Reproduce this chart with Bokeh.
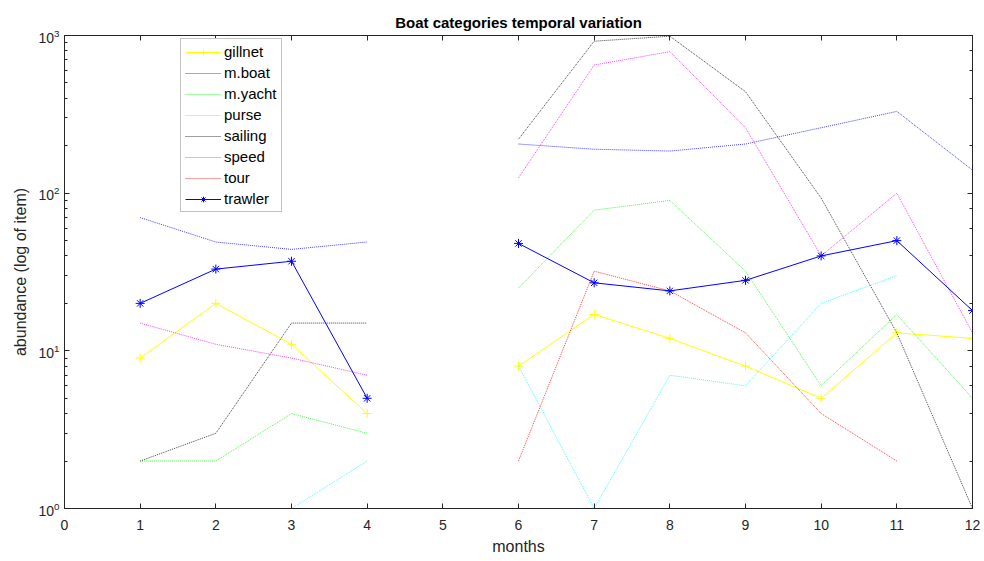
import numpy as np
from bokeh.plotting import figure
from bokeh.models import (Range1d, FixedTicker, Legend, LegendItem, LinearAxis, LogAxis)
from bokeh.embed import file_html
from bokeh.resources import INLINE

nan = float("nan")
months = [1, 2, 3, 4, 5, 6, 7, 8, 9, 10, 11, 12]
gillnet = [9, 20, 11, 4, nan, 8, 17, 12, 8, 5, 13, 12]
mboat = [70, 49, 44, 49, nan, 205, 190, 185, 205, 260, 330, 140]
myacht = [2, 2, 4, 3, nan, 25, 78, 90, 32, 6, 17, 5]
purse = [nan, 1, 1, 2, nan, 8, 1, 7, 6, 20, 30, nan]
sailing = [2, 3, 15, 15, nan, 220, 920, 990, 440, 93, 13, 1]
speed = [15, 11, 9, 7, nan, 125, 650, 790, 260, 40, 100, 13]
tour = [nan, nan, nan, nan, nan, 2, 32, 24, 13, 4, 2, nan]
trawler = [20, 33, 37, 5, nan, 48, 27, 24, 28, 40, 50, 18]
x_ticks = list(range(13))

FONT = "Liberation Sans"
AX = "#262626"

p = figure(width=984, height=561, output_backend="svg", toolbar_location=None,
           y_axis_type="log", x_range=Range1d(0, 12), y_range=Range1d(1, 1000),
           min_border_left=64, min_border_right=12, min_border_top=35, min_border_bottom=53)
p.title.text = "Boat categories temporal variation"
p.title.align = "center"
p.title.text_font = FONT
p.title.text_font_size = "15px"
p.title.text_font_style = "bold"
p.title.text_color = "black"
p.grid.visible = False
p.outline_line_color = AX
p.background_fill_color = "white"
p.border_fill_color = "white"

p.xaxis.ticker = FixedTicker(ticks=x_ticks)
p.xaxis.axis_label = "months"
p.yaxis.axis_label = "abundance (log of item)"
for ax in [p.xaxis[0], p.yaxis[0]]:
    ax.axis_label_text_font = FONT
    ax.axis_label_text_font_size = "16px"
    ax.axis_label_text_font_style = "normal"
    ax.axis_label_text_color = AX
    ax.major_label_text_font = FONT
    ax.major_label_text_font_size = "14px"
    ax.major_label_text_color = AX
    ax.axis_line_color = AX
    ax.major_tick_line_color = AX
    ax.minor_tick_line_color = AX
    ax.major_tick_in = 5
    ax.major_tick_out = 0
    ax.minor_tick_in = 3
    ax.minor_tick_out = 0
    ax.axis_label_standoff = 6
p.xaxis.minor_tick_line_color = None
p.xaxis.major_label_standoff = 11
p.xaxis.axis_label_standoff = 5

top = LinearAxis(ticker=FixedTicker(ticks=x_ticks), major_label_text_color=None,
                 major_tick_in=5, major_tick_out=0, minor_tick_line_color=None,
                 axis_line_color=AX, major_tick_line_color=AX)
right = LogAxis(major_label_text_color=None, major_tick_in=5, major_tick_out=0,
                minor_tick_in=3, minor_tick_out=0, axis_line_color=AX,
                major_tick_line_color=AX, minor_tick_line_color=AX)
p.add_layout(top, "above")
p.add_layout(right, "right")

series = [
    ("gillnet", gillnet, "#ffff00", "solid", "cross"),
    ("m.boat", mboat, "#0000ff", "1 1", None),
    ("m.yacht", myacht, "#00ff00", "1 1", None),
    ("purse", purse, "#00ffff", "1 1", None),
    ("sailing", sailing, "#000000", "1 1", None),
    ("speed", speed, "#ff00ff", "1 1", None),
    ("tour", tour, "#ff0000", "1 1", None),
    ("trawler", trawler, "#0000ff", "solid", "asterisk"),
]
items = []
for name, vals, col, dash, marker in series:
    y = np.array(vals, dtype=float)
    r = p.line(months, y, line_color=col, line_width=1, line_dash=dash,
               line_alpha=1.0 if dash == "solid" else 0.75)
    rs = [r]
    if marker:
        m = p.scatter(months, y, marker=marker, size=9, line_color=col, line_width=1)
        rs.append(m)
    items.append(LegendItem(label=name, renderers=rs))

legend = Legend(items=items, location=(116, 296), label_text_font=FONT,
                label_text_font_size="15px", label_text_color="black",
                glyph_width=36, glyph_height=14, spacing=4, padding=4, margin=0,
                label_standoff=3, border_line_color="#888888",
                background_fill_color="white", background_fill_alpha=1.0,
                label_height=14)
p.add_layout(legend, "center")

open("out.html", "w").write(file_html(p, INLINE))
